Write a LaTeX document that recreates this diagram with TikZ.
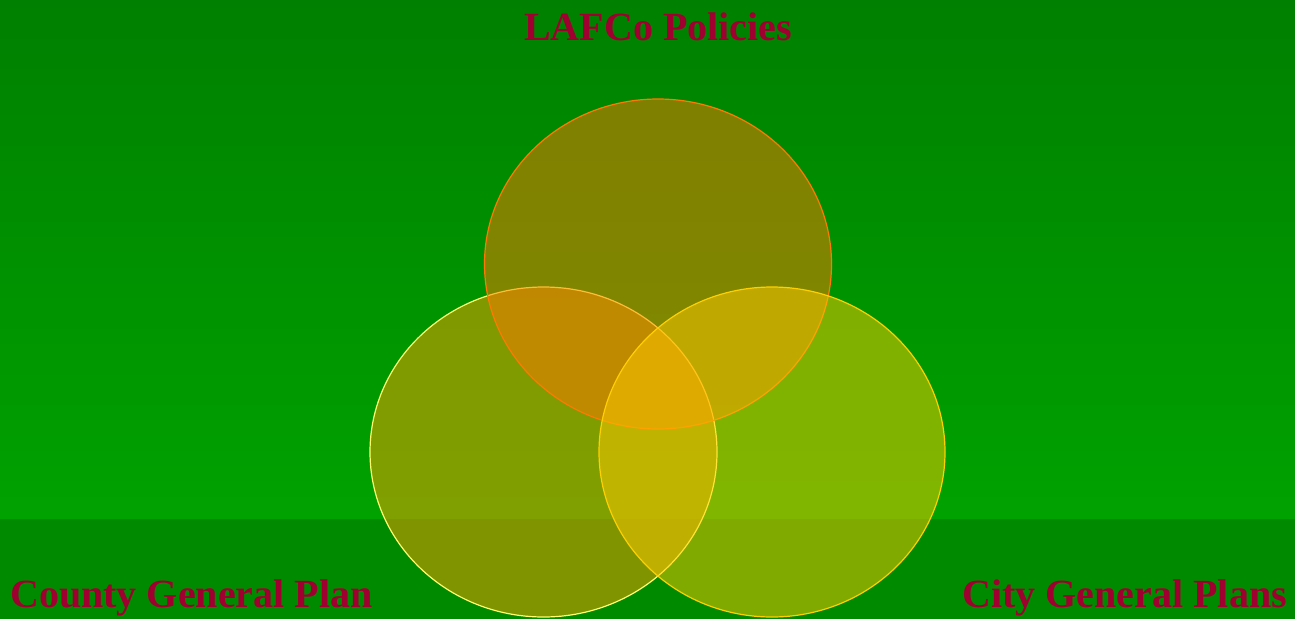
\documentclass[tikz,border=0pt]{standalone}
\usepackage{fontspec}
\setmainfont{Liberation Serif}
\usetikzlibrary{positioning}
\definecolor{grasstop}{HTML}{008000}
\definecolor{grassbot}{HTML}{00A200}
\definecolor{band}{HTML}{008A00}
\definecolor{crimson}{HTML}{A00030}
\definecolor{lafco}{HTML}{FF7A00}
\definecolor{county}{HTML}{FF9E00}
\definecolor{city}{HTML}{FFCA00}
\definecolor{countyline}{HTML}{FFFF70}
\definecolor{cityline}{HTML}{FFD000}

\begin{document}
\begin{tikzpicture}[x=1pt,y=-1pt,
heading/.style={text=crimson,font=\bfseries\fontsize{40}{44}\selectfont,inner sep=0pt},
setfill/.style={fill opacity=.5,line width=1.2pt}]

\useasboundingbox (0,0) rectangle (1295,619);
\shade[top color=grasstop,bottom color=grassbot] (0,0) rectangle (1295,519);
\fill[band] (0,519) rectangle (1295,619);

% the three sets
\filldraw[setfill,fill=county,draw=countyline] (543.5,452) ellipse [x radius=173.5,y radius=165];
\filldraw[setfill,fill=lafco,draw=lafco] (658,264) ellipse [x radius=173.5,y radius=165];
\filldraw[setfill,fill=city,draw=cityline] (772,452) ellipse [x radius=173,y radius=165];

\node[heading,anchor=base] (lafcotitle) at (658,40){LAFCo Policies};
\node[heading,anchor=base west] (countytitle) at (10,607){County General Plan};
\node[heading,anchor=base east] (citytitle) at (1287,607){City General Plans};
\end{tikzpicture}
\end{document}
